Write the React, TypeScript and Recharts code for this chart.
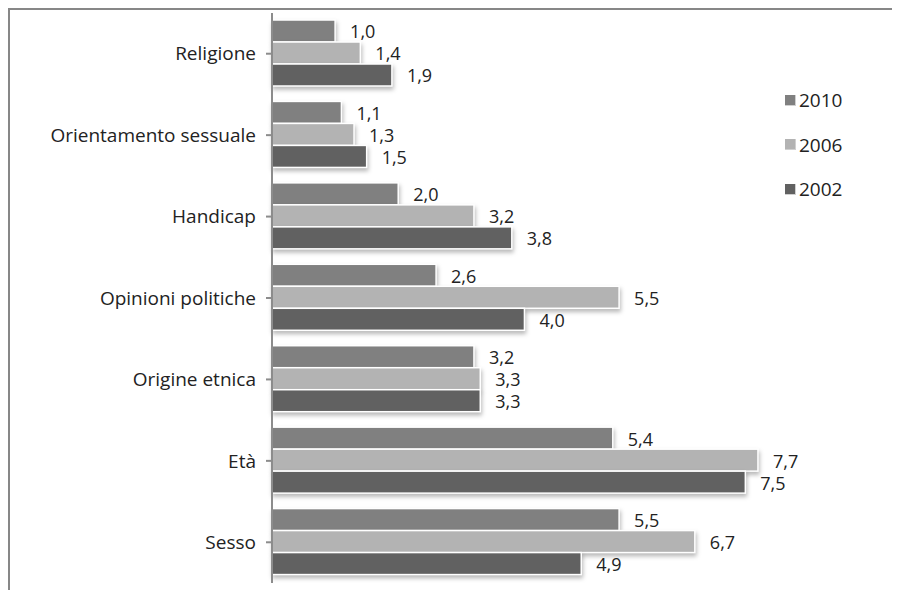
import React from 'react';
import { BarChart, Bar, XAxis, YAxis, LabelList } from 'recharts';

if (typeof document !== 'undefined') {
  document.body.style.overflow = 'hidden';
}

const categories = ['Religione', 'Orientamento sessuale', 'Handicap', 'Opinioni politiche', 'Origine etnica', 'Età', 'Sesso'];
const values2010 = [1.0, 1.1, 2.0, 2.6, 3.2, 5.4, 5.5];
const values2006 = [1.4, 1.3, 3.2, 5.5, 3.3, 7.7, 6.7];
const values2002 = [1.9, 1.5, 3.8, 4.0, 3.3, 7.5, 4.9];
const seriesNames = ['2010', '2006', '2002'];
const seriesColors = ['#808080', '#b3b3b3', '#616161'];

const data = categories.map((c, i) => ({
  cat: c,
  '2010': values2010[i],
  '2006': values2006[i],
  '2002': values2002[i],
}));

const FONT = '"Open Sans", sans-serif';
const fmt = (v: any) => (typeof v === 'number' ? v.toFixed(1).replace('.', ',') : v);

const ShadowBar = (props: any) => {
  const { x, y, width, height, fill } = props;
  if (width <= 0) return null;
  return (
    <rect
      x={x}
      y={y}
      width={width}
      height={height}
      fill={fill}
      stroke="#ffffff"
      strokeWidth={1.5}
      style={{ filter: 'drop-shadow(1px 3px 2px rgba(0,0,0,0.28))' }}
    />
  );
};

export default function App() {
  return (
    <div
      style={{
        position: 'relative',
        width: 892,
        height: 600,
        borderTop: '2px solid #878787',
        borderLeft: '2px solid #878787',
        boxSizing: 'border-box',
        fontFamily: FONT,
      }}
    >
      <BarChart
        width={890}
        height={598}
        data={data}
        layout="vertical"
        margin={{ top: 3, right: 60, bottom: 25, left: 0 }}
        barCategoryGap={7}
        barGap={0}
      >
        <XAxis type="number" domain={[0, 9]} hide />
        <YAxis
          type="category"
          dataKey="cat"
          width={262}
          axisLine={{ stroke: '#8c8c8c', strokeWidth: 2 }}
          tickLine={{ stroke: '#8c8c8c', strokeWidth: 2 }}
          tickSize={6}
          tickMargin={10}
          tick={{ fill: '#222222', fontSize: 19, fontFamily: FONT }}
          interval={0}
        />
        {seriesNames.map((s, i) => (
          <Bar key={s} dataKey={s} fill={seriesColors[i]} isAnimationActive={false} shape={<ShadowBar />}>
            <LabelList
              dataKey={s}
              position="right"
              offset={15}
              formatter={fmt}
              dy={1}
              style={{ fill: '#222222', fontSize: 18, fontFamily: FONT }}
            />
          </Bar>
        ))}
      </BarChart>
      <div style={{ position: 'absolute', left: 775, top: 68 }}>
        {seriesNames.map((s, i) => (
          <div key={s} style={{ display: 'flex', alignItems: 'center', height: 44.5 }}>
            <div
              style={{
                width: 10,
                height: 10,
                background: seriesColors[i],
                borderRight: '1.5px solid #d0d0d0',
                borderBottom: '1.5px solid #d0d0d0',
                marginRight: 3,
              }}
            />
            <span style={{ fontSize: 19, color: '#222222' }}>{s}</span>
          </div>
        ))}
      </div>
    </div>
  );
}
